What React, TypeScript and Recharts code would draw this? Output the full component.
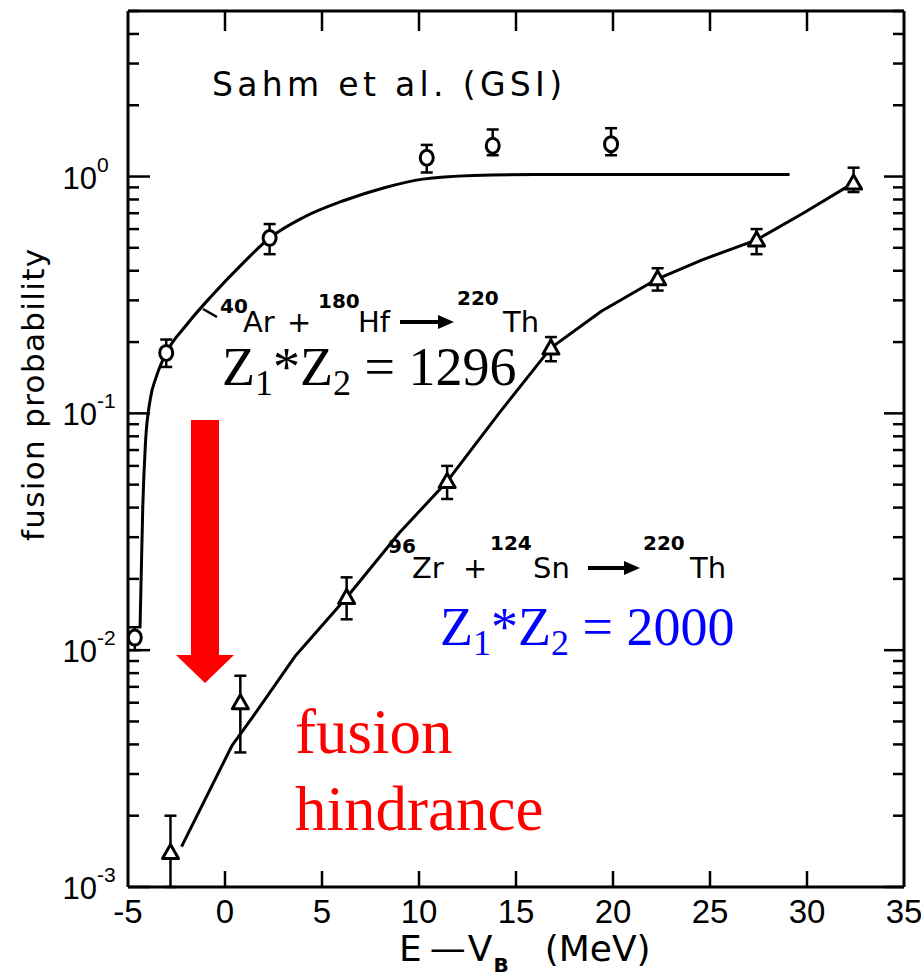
import React from 'react';
import { ComposedChart, Line, Scatter, XAxis, YAxis, ErrorBar } from 'recharts';

// ---- measured points: 40Ar + 180Hf (circles) ----
const arHfEnergy = [-4.65, -3.03, 2.3, 10.4, 13.8, 19.9];
const arHfProb = [0.0113, 0.18, 0.55, 1.2, 1.35, 1.37];
const arHfLow = [0.0100, 0.157, 0.47, 1.04, 1.23, 1.23];
const arHfHigh = [0.0125, 0.205, 0.63, 1.36, 1.58, 1.6];

// ---- measured points: 96Zr + 124Sn (triangles) ----
const zrSnEnergy = [-2.81, 0.79, 6.27, 11.45, 16.8, 22.3, 27.4, 32.4];
const zrSnProb = [0.0014, 0.006, 0.0167, 0.0516, 0.189, 0.37, 0.54, 0.94];
const zrSnLow = [0.001, 0.0037, 0.0135, 0.0435, 0.166, 0.33, 0.47, 0.86];
const zrSnHigh = [0.002, 0.0078, 0.0203, 0.060, 0.21, 0.41, 0.60, 1.09];

// ---- drawn curves ----
const arHfCurveE = [-4.38, -4.24, -4.1, -3.85, -3.55, -3.03, -1.99, -0.68, 0.89, 2.3, 4.01, 6.1, 8.17, 10.2, 12.8, 16.0, 29.1];
const arHfCurveP = [0.0124, 0.04, 0.075, 0.115, 0.142, 0.18, 0.236, 0.314, 0.428, 0.55, 0.67, 0.79, 0.895, 0.975, 1.01, 1.02, 1.02];

const zrSnCurveE = [-2.24, 0.35, 1.45, 3.6, 6.27, 8.99, 11.45, 14.2, 16.8, 19.4, 22.3, 24.6, 27.4, 29.8, 32.4];
const zrSnCurveP = [0.00148, 0.00394, 0.00526, 0.0094, 0.0167, 0.0313, 0.0516, 0.102, 0.189, 0.27, 0.37, 0.445, 0.54, 0.70, 0.94];

// ---- axes ----
const xTicks = [-5, 0, 5, 10, 15, 20, 25, 30, 35];
const xTickLabels = ['-5', '0', '5', '10', '15', '20', '25', '30', '35'];
const yMajorTicks = [0.001, 0.01, 0.1, 1];
const yTickExponents = ['-3', '-2', '-1', '0'];
const yMinorMultipliers = [2, 3, 4, 5, 6, 7, 8, 9];
const Y_MAX = 5;
const X_DOMAIN = [-5, 35];

const yTicks: number[] = [];
yMajorTicks.forEach((d) => {
  yTicks.push(d);
  yMinorMultipliers.forEach((m) => {
    const v = +(d * m).toPrecision(3);
    if (v <= Y_MAX) yTicks.push(v);
  });
});

// ---- layout ----
const W = 921;
const H = 977;
const PLOT_L = 128;
const PLOT_R = 904;
const PLOT_T = 11;
const PLOT_B = 887;

const circleData = arHfEnergy.map((x, i) => ({ x, y: arHfProb[i], err: [arHfProb[i] - arHfLow[i], arHfHigh[i] - arHfProb[i]] }));
const triData = zrSnEnergy.map((x, i) => ({ x, y: zrSnProb[i], err: [zrSnProb[i] - zrSnLow[i], zrSnHigh[i] - zrSnProb[i]] }));
const arCurve = arHfCurveE.map((x, i) => ({ x, y: arHfCurveP[i] }));
const zrCurve = zrSnCurveE.map((x, i) => ({ x, y: zrSnCurveP[i] }));

const SANS = '"DejaVu Sans", "Liberation Sans", sans-serif';
const TICKFONT = '"Liberation Sans", Arial, sans-serif';
const SERIF = '"Liberation Serif", "Times New Roman", serif';

const LeftTick = (props: any) => {
  const { y, payload } = props;
  const idx = yMajorTicks.indexOf(payload.value);
  const major = idx >= 0;
  return (
    <g>
      <line x1={PLOT_L} x2={PLOT_L + (major ? 22 : 11)} y1={y} y2={y} stroke="#000" strokeWidth={2.5} />
      {major && (
        <text x={PLOT_L - 31} y={y + 12} textAnchor="end" fontSize={31} fontFamily={TICKFONT} fill="#000">10</text>
      )}
      {major && (
        <text x={PLOT_L - 31} y={y - 5} textAnchor="start" fontSize={21} fontFamily={TICKFONT} fill="#000">{yTickExponents[idx]}</text>
      )}
    </g>
  );
};

const RightTick = (props: any) => {
  const { y, payload } = props;
  const major = yMajorTicks.indexOf(payload.value) >= 0;
  return <line x1={PLOT_R} x2={PLOT_R - (major ? 20 : 11)} y1={y} y2={y} stroke="#000" strokeWidth={2.5} />;
};

const BottomTick = (props: any) => {
  const { x, payload } = props;
  const idx = xTicks.indexOf(payload.value);
  const edge = payload.value === X_DOMAIN[0] || payload.value === X_DOMAIN[1];
  return (
    <g>
      {!edge && <line x1={x} x2={x} y1={PLOT_B} y2={PLOT_B - 16} stroke="#000" strokeWidth={2.5} />}
      <text x={x} y={PLOT_B + 36} textAnchor="middle" fontSize={33} fontFamily={TICKFONT} fill="#000">{xTickLabels[idx]}</text>
    </g>
  );
};

const TopTick = (props: any) => {
  const { x, payload } = props;
  const edge = payload.value === X_DOMAIN[0] || payload.value === X_DOMAIN[1];
  if (edge) return <g />;
  return <line x1={x} x2={x} y1={PLOT_T} y2={PLOT_T + 20} stroke="#000" strokeWidth={2.5} />;
};

const CircleShape = (props: any) => {
  const { cx, cy } = props;
  return <ellipse cx={cx} cy={cy} rx={6.5} ry={7.5} fill="#fff" stroke="#000" strokeWidth={3} />;
};

const TriangleShape = (props: any) => {
  const { cx, cy } = props;
  return (
    <polygon points={`${cx},${cy - 8} ${cx - 8},${cy + 6} ${cx + 8},${cy + 6}`} fill="#fff" stroke="#000" strokeWidth={3} strokeLinejoin="round" />
  );
};

const Annotations = () => (
  <svg width={W} height={H} style={{ position: 'absolute', left: 0, top: 0, pointerEvents: 'none' }}>
    {/* header */}
    <text x={212} y={96} fontSize={33} fontFamily={SANS} textLength={350} lengthAdjust="spacing" fill="#000">Sahm et al. (GSI)</text>

    {/* reaction 1 */}
    <line x1={203} y1={309} x2={217} y2={317} stroke="#000" strokeWidth={2.5} />
    <text x={220} y={313} fontSize={20} fontFamily={SANS} fontWeight="bold" fill="#000">40</text>
    <text x={243} y={332} fontSize={29} fontFamily={SANS} fill="#000">Ar</text>
    <text x={287} y={332} fontSize={29} fontFamily={SANS} fill="#000">+</text>
    <text x={318} y={308} fontSize={20} fontFamily={SANS} fontWeight="bold" fill="#000">180</text>
    <text x={358} y={332} fontSize={29} fontFamily={SANS} fill="#000">Hf</text>
    <line x1={400} y1={322} x2={442} y2={322} stroke="#000" strokeWidth={4} />
    <polygon points="438,315 454,322 438,329" fill="#000" />
    <text x={457} y={305} fontSize={20} fontFamily={SANS} fontWeight="bold" fill="#000">220</text>
    <text x={503} y={332} fontSize={29} fontFamily={SANS} fill="#000">Th</text>

    {/* reaction 2 */}
    <text x={388} y={553} fontSize={20} fontFamily={SANS} fontWeight="bold" fill="#000">96</text>
    <text x={412} y={578} fontSize={29} fontFamily={SANS} fill="#000">Zr</text>
    <text x={463} y={578} fontSize={29} fontFamily={SANS} fill="#000">+</text>
    <text x={490} y={550} fontSize={20} fontFamily={SANS} fontWeight="bold" fill="#000">124</text>
    <text x={533} y={578} fontSize={29} fontFamily={SANS} fill="#000">Sn</text>
    <line x1={588} y1={568} x2={628} y2={568} stroke="#000" strokeWidth={4} />
    <polygon points="624,561 640,568 624,575" fill="#000" />
    <text x={643} y={550} fontSize={20} fontFamily={SANS} fontWeight="bold" fill="#000">220</text>
    <text x={690} y={578} fontSize={29} fontFamily={SANS} fill="#000">Th</text>

    {/* Z1*Z2 labels */}
    <text x={222} y={385} fontSize={54} fontFamily={SERIF} fill="#000">
      Z<tspan fontSize={36} dy={10}>1</tspan><tspan dy={-10}>*Z</tspan><tspan fontSize={36} dy={10}>2</tspan><tspan dy={-10}> = 1296</tspan>
    </text>
    <text x={440} y={645} fontSize={54} fontFamily={SERIF} fill="#0000ff">
      Z<tspan fontSize={36} dy={10}>1</tspan><tspan dy={-10}>*Z</tspan><tspan fontSize={36} dy={10}>2</tspan><tspan dy={-10}> = 2000</tspan>
    </text>

    {/* red arrow and hindrance text */}
    <polygon points="191,420 219,420 219,655 234,655 205,683 176,655 191,655" fill="#ff0000" />
    <text x={295} y={753} fontSize={63} fontFamily={SERIF} fill="#ff0000">fusion</text>
    <text x={295} y={830} fontSize={63} fontFamily={SERIF} fill="#ff0000">hindrance</text>

    {/* axis titles */}
    <text x={44} y={395} fontSize={31} fontFamily={SANS} textAnchor="middle" textLength={292} lengthAdjust="spacing" transform="rotate(-90 44 395)" fill="#000">fusion probability</text>
    <text x={399} y={961} fontSize={36} fontFamily={SANS} fill="#000">
      E<tspan dx={8}>—</tspan><tspan dx={2}>V</tspan><tspan dx={1} dy={11} fontSize={20} fontWeight="bold">B</tspan><tspan dx={36} dy={-11}>(MeV)</tspan>
    </text>
  </svg>
);

export default function App() {
  return (
    <div style={{ position: 'absolute', left: 0, top: 0, width: W, height: H, background: '#fff' }}>
      <ComposedChart width={W} height={H} margin={{ top: 0, right: 0, bottom: 0, left: 0 }}>
        <XAxis
          xAxisId="b"
          dataKey="x"
          type="number"
          domain={X_DOMAIN}
          ticks={xTicks}
          interval={0}
          allowDataOverflow
          height={H - PLOT_B}
          axisLine={{ stroke: '#000', strokeWidth: 3 }}
          tickLine={false}
          tick={BottomTick}
        />
        <XAxis
          xAxisId="t"
          orientation="top"
          dataKey="x"
          type="number"
          domain={X_DOMAIN}
          ticks={xTicks}
          interval={0}
          allowDataOverflow
          height={PLOT_T}
          axisLine={{ stroke: '#000', strokeWidth: 3 }}
          tickLine={false}
          tick={TopTick}
        />
        <YAxis
          yAxisId="l"
          type="number"
          scale="log"
          domain={[yMajorTicks[0], Y_MAX]}
          ticks={yTicks}
          interval={0}
          allowDataOverflow
          width={PLOT_L}
          axisLine={{ stroke: '#000', strokeWidth: 3 }}
          tickLine={false}
          tick={LeftTick}
        />
        <YAxis
          yAxisId="r"
          orientation="right"
          type="number"
          scale="log"
          domain={[yMajorTicks[0], Y_MAX]}
          ticks={yTicks}
          interval={0}
          allowDataOverflow
          width={W - PLOT_R}
          axisLine={{ stroke: '#000', strokeWidth: 3 }}
          tickLine={false}
          tick={RightTick}
        />
        <Line xAxisId="b" yAxisId="l" data={arCurve} dataKey="y" type="monotone" dot={false} stroke="#000" strokeWidth={3} isAnimationActive={false} />
        <Line xAxisId="b" yAxisId="l" data={zrCurve} dataKey="y" type="linear" dot={false} stroke="#000" strokeWidth={3} strokeLinejoin="round" isAnimationActive={false} />
        <Line xAxisId="t" yAxisId="r" data={arCurve} dataKey="y" type="monotone" dot={false} stroke="none" strokeWidth={0} isAnimationActive={false} />
        <Scatter xAxisId="b" yAxisId="l" data={circleData} dataKey="y" shape={CircleShape} isAnimationActive={false}>
          <ErrorBar dataKey="err" direction="y" width={6} stroke="#000" strokeWidth={2.5} />
        </Scatter>
        <Scatter xAxisId="b" yAxisId="l" data={triData} dataKey="y" shape={TriangleShape} isAnimationActive={false}>
          <ErrorBar dataKey="err" direction="y" width={6} stroke="#000" strokeWidth={2.5} />
        </Scatter>
      </ComposedChart>
      <Annotations />
    </div>
  );
}
